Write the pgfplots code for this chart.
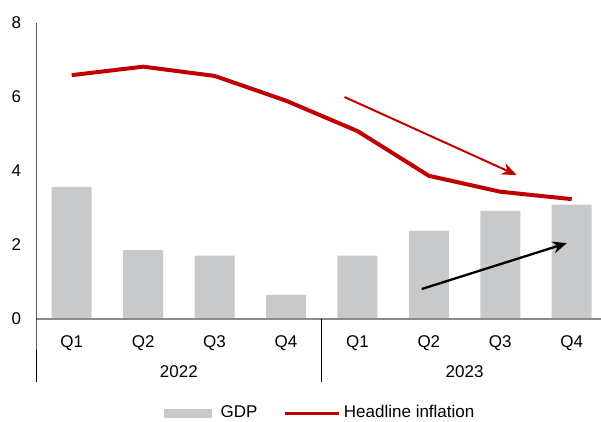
\documentclass[border=0pt]{standalone}
\usepackage{fontspec}
\setmainfont{Liberation Sans}
\usepackage{pgfplots}
\pgfplotsset{compat=1.18}
\usetikzlibrary{arrows.meta}
\definecolor{barg}{RGB}{200,201,203}
\definecolor{infred}{RGB}{192,0,0}
\newcommand\f{\fontsize{17bp}{20bp}\selectfont}
\begin{document}
\f
\begin{tikzpicture}[font=\f]
\begin{axis}[
  at={(0,0)}, anchor=south west,
  scale only axis, width=565bp, height=296bp,
  xmin=-0.5, xmax=7.41, ymin=0, ymax=8,
  axis line style={draw=none},
  tick style={draw=none},
  major tick length=0pt,
  ytick={0,2,4,6,8},
  xtick={0,...,7},
  xticklabels={Q1,Q2,Q3,Q4,Q1,Q2,Q3,Q4},
  tick label style={font=\f},
  yticklabel style={xshift=-9bp},
  xticklabel style={anchor=base, yshift=-28bp},
  /pgf/number format/assume math mode=true,
  clip=false,
  legend style={at={(axis description cs:0.5,0)}, anchor=center, xshift=1.5bp, yshift=-94bp,
    draw=none, font=\f, legend columns=2,
    nodes={inner xsep=2bp, inner ysep=1bp},
    /tikz/every even column/.append style={column sep=24bp}},
]
\addplot[ybar, bar width=40bp, fill=barg, draw=none,
  legend image code/.code={\fill[barg] (0bp,-4.5bp) rectangle (48bp,4.5bp); \path (55bp,0bp);}]
  coordinates {(0,3.57) (1,1.86) (2,1.71) (3,0.65) (4,1.71) (5,2.38) (6,2.92) (7,3.09)};
\addlegendentry{GDP}
\addplot[infred, line width=4bp, line join=round, mark=none,
  legend image code/.code={\draw[infred, line width=3bp] (0bp,0bp) -- (54bp,0bp); \path (55bp,0bp);}]
  coordinates {(0,6.59) (1,6.82) (2,6.57) (3,5.90) (4,5.08) (5,3.87) (6,3.44) (7,3.24)};
\addlegendentry{Headline inflation}
\draw[gray!90, line width=1.3bp] (axis cs:-0.5,0) -- (axis cs:7.41,0);
\draw[black, line width=1bp] (axis cs:-0.5,8) -- (axis cs:-0.5,0) -- ++(0pt,-63bp);
\draw[black, line width=1bp] (axis cs:3.5,0) -- ++(0pt,-63bp);
\path (axis cs:1.5,0) ++(0pt,-58bp) node[anchor=base] {2022};
\path (axis cs:5.5,0) ++(0pt,-58bp) node[anchor=base] {2023};
\draw[infred, line width=2bp, -{Stealth[length=15bp,width=12bp]}] (axis cs:3.82,6.0) -- (axis cs:6.23,3.89);
\draw[black, line width=2.3bp, -{Stealth[length=14bp,width=12bp]}] (axis cs:4.90,0.81) -- (axis cs:6.93,2.05);
\end{axis}
\pgfresetboundingbox
\path (-36bp,-103bp) rectangle (565bp,319bp);
\end{tikzpicture}
\end{document}
